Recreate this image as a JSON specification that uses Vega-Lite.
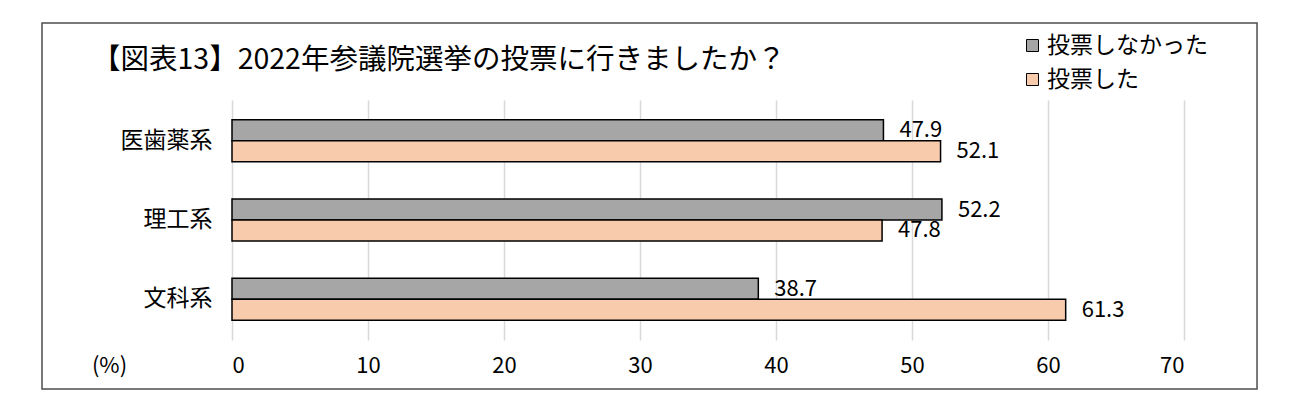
{
  "$schema": "https://vega.github.io/schema/vega-lite/v6.json",
  "autosize": {"type": "none"},
  "padding": {"left": 232, "top": 100, "right": 116, "bottom": 80},
  "width": 952,
  "height": 240,
  "background": "white",
  "title": {
    "text": "【図表13】2022年参議院選挙の投票に行きましたか？",
    "anchor": "start",
    "frame": "group",
    "dx": -140,
    "offset": -52,
    "fontSize": 28.5,
    "fontWeight": "normal",
    "font": "Noto Sans CJK JP",
    "color": "#000000"
  },
  "data": {
    "values": [
      {"cat": "医歯薬系", "series": "投票しなかった", "value": 47.9},
      {"cat": "医歯薬系", "series": "投票した", "value": 52.1},
      {"cat": "理工系", "series": "投票しなかった", "value": 52.2},
      {"cat": "理工系", "series": "投票した", "value": 47.8},
      {"cat": "文科系", "series": "投票しなかった", "value": 38.7},
      {"cat": "文科系", "series": "投票した", "value": 61.3}
    ]
  },
  "layer": [
    {
      "data": {"values": [{"frame": 1}]},
      "mark": {"type": "rect", "fill": null, "fillOpacity": 0, "stroke": "#4d4d4d", "strokeWidth": 1.5, "clip": false},
      "encoding": {
        "x": {"datum": -13.97, "type": "quantitative"},
        "x2": {"datum": 75.37},
        "y": {"datum": 317, "type": "quantitative", "scale": {"domain": [0, 240], "nice": false, "zero": false}, "axis": null},
        "y2": {"datum": -49}
      }
    },
    {
      "encoding": {
        "y": {
          "field": "cat", "type": "nominal",
          "sort": ["医歯薬系", "理工系", "文科系"],
          "scale": {"paddingInner": 0.47, "paddingOuter": 0.25},
          "axis": {"title": null, "domain": false, "ticks": false, "labelFontSize": 23, "labelPadding": 20, "labelColor": "#000000", "labelFont": "Noto Sans CJK JP"}
        },
        "yOffset": {"field": "series", "type": "nominal", "sort": ["投票しなかった", "投票した"], "scale": {"paddingInner": 0, "paddingOuter": 0}},
        "x": {
          "field": "value", "type": "quantitative",
          "scale": {"domain": [0, 70], "nice": false},
          "axis": {
            "values": [0, 10, 20, 30, 40, 50, 60, 70],
            "grid": true, "gridColor": "#d9d9d9", "gridWidth": 1.5,
            "domain": false, "ticks": false,
            "labelFontSize": 22, "labelPadding": 15, "labelColor": "#000000", "labelFont": "Noto Sans CJK JP",
            "title": "(%)", "titleX": -123, "titleY": 25, "titleBaseline": "middle", "titleAlign": "center",
            "titleFontSize": 22, "titleFontWeight": "normal", "titleColor": "#000000", "titleFont": "Noto Sans CJK JP"
          }
        }
      },
      "layer": [
        {
          "mark": {"type": "bar", "stroke": "#000000", "strokeWidth": 1.5},
          "encoding": {
            "color": {
              "field": "series", "type": "nominal",
              "scale": {"domain": ["投票しなかった", "投票した"], "range": ["#a6a6a6", "#f8cbad"]},
              "legend": {
                "title": null, "orient": "none", "legendX": 789, "legendY": -66,
                "symbolType": "square", "symbolSize": 144, "symbolStrokeColor": "#000000", "symbolStrokeWidth": 1,
                "symbolOpacity": 1, "labelLimit": 0,
                "labelFontSize": 23, "labelFont": "Noto Sans CJK JP", "labelColor": "#000000", "labelOffset": 3,
                "rowPadding": 10, "padding": 0
              }
            }
          }
        },
        {
          "mark": {"type": "text", "align": "left", "baseline": "middle", "dx": 16, "fontSize": 22, "font": "Noto Sans CJK JP", "color": "#000000"},
          "encoding": {
            "text": {"field": "value", "type": "quantitative", "format": ".1f"}
          }
        }
      ]
    }
  ],
  "resolve": {"scale": {"y": "independent"}},
  "config": {"view": {"stroke": null}}
}
